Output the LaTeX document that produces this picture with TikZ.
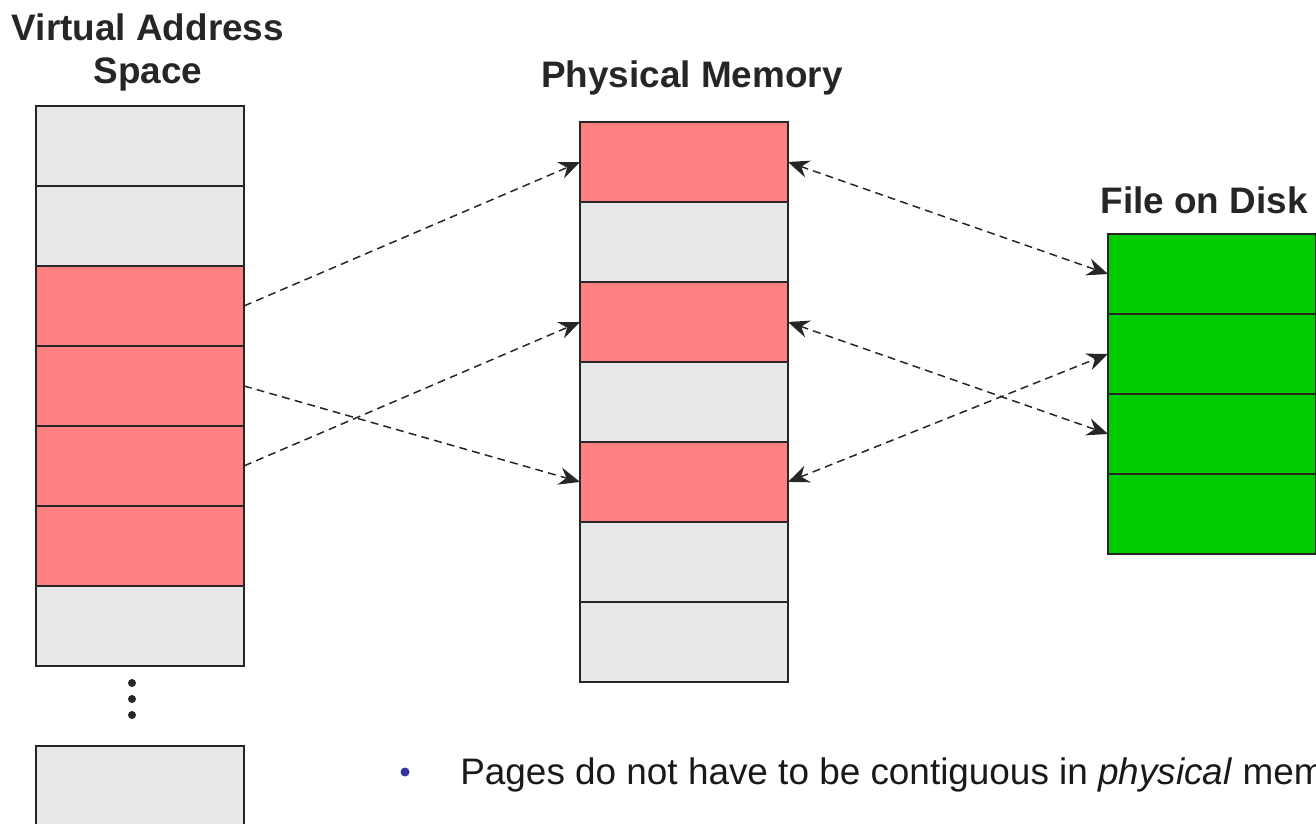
\documentclass[tikz,border=0pt]{standalone}
\usepackage{fontspec}
\setmainfont{Liberation Sans}
\usetikzlibrary{positioning,arrows.meta}

\definecolor{pagegray}{HTML}{E8E8E8}
\definecolor{pagered}{HTML}{FF8080}
\definecolor{diskgreen}{HTML}{00CC00}
\definecolor{edgegray}{HTML}{262626}
\definecolor{bulletblue}{HTML}{333399}

\tikzset{
  pagebox/.style={draw=edgegray, line width=1.1pt, minimum width=4.16cm, minimum height=1.6cm, inner sep=0pt, outer sep=0pt},
  freepage/.style={pagebox, fill=pagegray},
  usedpage/.style={pagebox, fill=pagered},
  diskpage/.style={pagebox, fill=diskgreen},
  heading/.style={font=\fontsize{21}{25}\selectfont\bfseries, text=edgegray, align=center, inner sep=0pt},
  mapline/.style={edgegray, line width=0.85pt, dash pattern=on 4.5pt off 3pt, -{Stealth[length=12pt,width=10pt,inset=4pt]}},
  syncline/.style={mapline, {Stealth[length=12pt,width=10pt,inset=4pt]}-{Stealth[length=12pt,width=10pt,inset=4pt]}}
}

\begin{document}
\begin{tikzpicture}[x=0.02cm, y=-0.02cm]

\useasboundingbox (0,0) rectangle (1316,824);
\clip (0,0) rectangle (1316,824);

%% Virtual address space
\node[heading, anchor=base] (vtitle) at (148,84) {Virtual Address\\Space};
\node[freepage] (v1) at (140,146) {};
\node[freepage, below=0pt of v1] (v2) {};
\node[usedpage, below=0pt of v2] (v3) {};
\node[usedpage, below=0pt of v3] (v4) {};
\node[usedpage, below=0pt of v4] (v5) {};
\node[usedpage, below=0pt of v5] (v6) {};
\node[freepage, below=0pt of v6] (v7) {};
\node[freepage] (v8) at (140,786) {};
%
\fill[edgegray] (132,683) circle (4);
\fill[edgegray] (132,699) circle (4);
\fill[edgegray] (132,715) circle (4);

%% Physical memory
\node[heading, anchor=base] (ptitle) at (692,88) {Physical Memory};
\node[usedpage] (p1) at (684,162) {};
\node[freepage, below=0pt of p1] (p2) {};
\node[usedpage, below=0pt of p2] (p3) {};
\node[freepage, below=0pt of p3] (p4) {};
\node[usedpage, below=0pt of p4] (p5) {};
\node[freepage, below=0pt of p5] (p6) {};
\node[freepage, below=0pt of p6] (p7) {};

%% File on disk
\node[heading, anchor=base] (dtitle) at (1204,214) {File on Disk};
\node[diskpage] (d1) at (1212,274) {};
\node[diskpage, below=0pt of d1] (d2) {};
\node[diskpage, below=0pt of d2] (d3) {};
\node[diskpage, below=0pt of d3] (d4) {};

%% mappings
\draw[mapline] (v3.east) -- (p1.west);
\draw[mapline] (v4.east) -- (p5.west);
\draw[mapline] (v5.east) -- (p3.west);
%
\draw[syncline] (p1.east) -- (d1.west);
\draw[syncline] (p3.east) -- (d3.west);
\draw[syncline] (p5.east) -- (d2.west);

%% note
\fill[bulletblue] (405,772) circle (4.5);
\node[anchor=base west, inner sep=0pt, font=\fontsize{21}{26}\selectfont, text=black!90] (note) at (460,784) {Pages do not have to be contiguous in \textit{physical} memory};

\end{tikzpicture}
\end{document}
